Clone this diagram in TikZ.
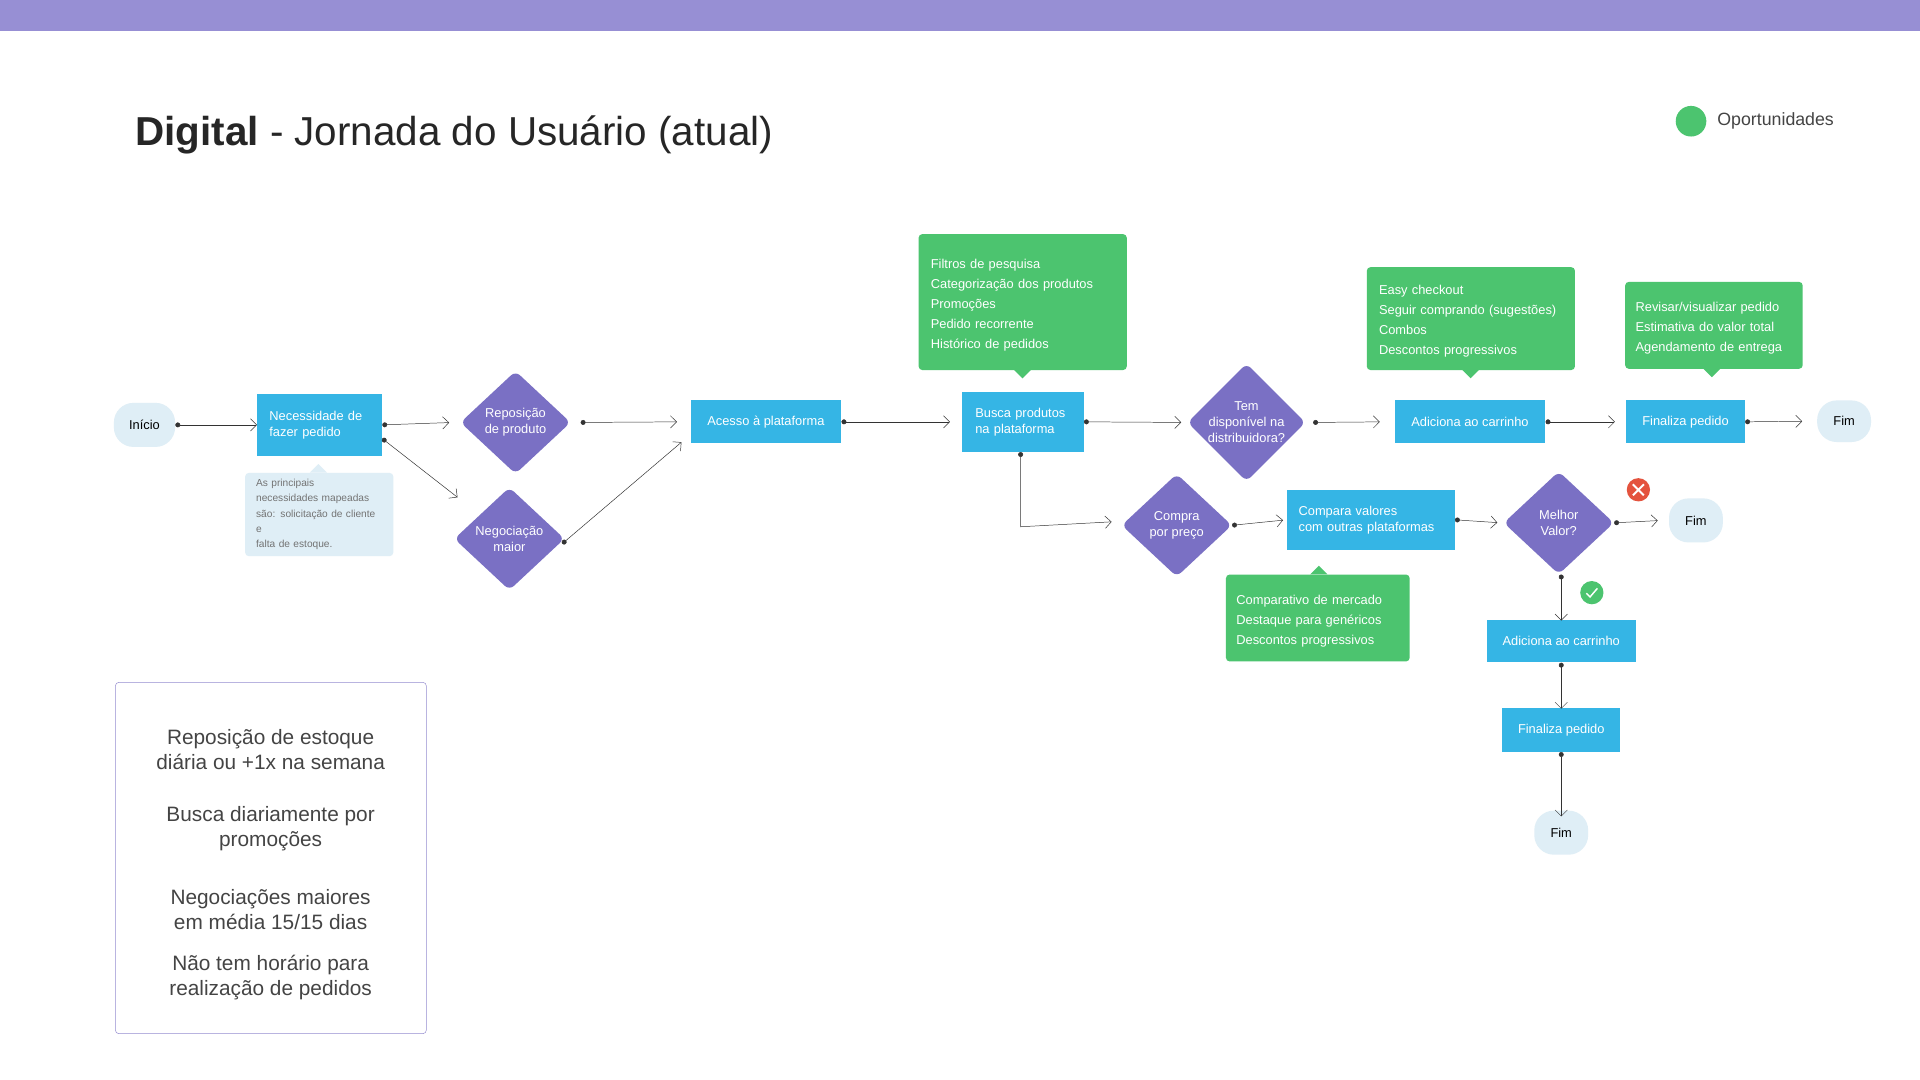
\documentclass[tikz,border=0pt]{standalone}
\usepackage{fontspec}
\setmainfont{Liberation Sans}
\usetikzlibrary{shapes.geometric,arrows.meta}
\definecolor{bar}{HTML}{978FD4}
\definecolor{blu}{HTML}{35B5E5}
\definecolor{pur}{HTML}{7A70C4}
\definecolor{grn}{HTML}{4CC46F}
\definecolor{pale}{HTML}{DFEEF6}
\definecolor{redx}{HTML}{E4533E}
\definecolor{txt}{HTML}{444444}
\begin{document}
\begin{tikzpicture}[x=1pt,y=-1pt,
 fs/.style={font=\fontsize{10.5}{13}\selectfont},
 term/.style={fs,fill=pale,rounded corners=16pt,minimum width=50pt,minimum height=36pt,inner sep=0pt,text=black},
 box/.style={fs,fill=blu,text=white,inner sep=0pt,align=left},
 dia/.style={fs,diamond,fill=pur,text=white,rounded corners=5pt,minimum width=90pt,minimum height=84pt,inner sep=0pt,align=center},
 opp/.style={fill=grn,rounded corners=3pt,text=white,align=left,anchor=north west,inner sep=0pt,font=\fontsize{10.5}{16.4}\selectfont},
 con/.style={{Circle[length=4pt]}-{Straight Barb[length=5pt,width=10pt]},thin,black!80,shorten >=3pt},
]
\useasboundingbox (0,0) rectangle (1568,882);
\fill[white] (0,0) rectangle (1568,882);
\fill[bar] (0,0) rectangle (1568,25);
\node[anchor=west,font=\fontsize{33}{38}\selectfont,text=black!85] (title) at (107,110) {\textbf{Digital} - Jornada do Usuário (atual)};
\fill[grn] (1381,99) circle (12.5);
\node[anchor=west,font=\fontsize{14.5}{17}\selectfont,text=txt] (leg) at (1399,99) {Oportunidades};

% nodes
\node[term] (ini) at (118,347) {Início};
\node[box,minimum width=102pt,minimum height=50pt,text width=82pt] (nec) at (261,347) {Necessidade de\\fazer pedido};
\fill[pale] (253,386) -- (260,379) -- (267,386) -- cycle;
\node[fill=pale,rounded corners=3pt,anchor=north west,minimum width=121pt,minimum height=68pt,text width=103pt,inner sep=0pt,align=left,text=black!55,font=\fontsize{8.3}{12.4}\selectfont] (note) at (200,386) {As principais\\necessidades mapeadas\\são: solicitação de cliente e\\falta de estoque.};
\node[dia] (rep) at (421,345) {Reposição\\de produto};
\node[dia] (neg) at (416,440) {Negociação\\maior};
\node[box,minimum width=123pt,minimum height=35pt,align=center] (ace) at (625.5,344.5) {Acesso à plataforma};
\node[box,minimum width=99pt,minimum height=49pt,text width=78pt] (bus) at (835.5,344.5) {Busca produtos\\na plataforma};
\node[opp,minimum width=170pt,minimum height=111pt,text width=150pt] (g1) at (750,191) {\\[-4pt]Filtros de pesquisa\\Categorização dos produtos\\Promoções\\Pedido recorrente\\Histórico de pedidos};
\fill[grn] (828,302) -- (835,309) -- (842,302) -- cycle;
\node[dia,minimum width=96pt,minimum height=90pt] (tem) at (1018,345) {Tem\\disponível na\\distribuidora?};
\node[box,minimum width=123pt,minimum height=35pt,align=center] (adi) at (1200.5,344.5) {Adiciona ao carrinho};
\node[opp,minimum width=170pt,minimum height=84pt,text width=150pt] (g2) at (1116,218) {\\[-4pt]Easy checkout\\Seguir comprando (sugestões)\\Combos\\Descontos progressivos};
\fill[grn] (1194,302) -- (1201,309) -- (1208,302) -- cycle;
\node[box,minimum width=97pt,minimum height=35pt,align=center] (fin) at (1376.5,344.5) {Finaliza pedido};
\node[opp,minimum width=145pt,minimum height=71pt,text width=128pt] (g3) at (1327,230) {\\[-4pt]Revisar/visualizar pedido\\Estimativa do valor total\\Agendamento de entrega};
\fill[grn] (1391,301) -- (1398,308) -- (1405,301) -- cycle;
\node[term,minimum width=44pt,minimum height=34pt] (fim1) at (1506,344) {Fim};

\node[dia] (com) at (961,429) {Compra\\por preço};
\node[box,minimum width=137pt,minimum height=49pt,text width=118pt] (cmp) at (1119.5,424.5) {Compara valores\\com outras plataformas};
\fill[grn] (1070,469) -- (1077,462) -- (1084,469) -- cycle;
\node[opp,minimum width=150pt,minimum height=71pt,text width=133pt] (g4) at (1001,469) {\\[-4pt]Comparativo de mercado\\Destaque para genéricos\\Descontos progressivos};
\node[dia] (mel) at (1273,427) {Melhor\\Valor?};
\node[term,minimum width=44pt,minimum height=36pt] (fim2) at (1385,425) {Fim};
\node[circle,fill=redx,minimum size=19pt,inner sep=0pt] (rx) at (1338,400) {};
\draw[white,line width=1.6pt] (1333.5,395.5) -- (1342.5,404.5) (1342.5,395.5) -- (1333.5,404.5);
\node[circle,fill=grn,minimum size=19pt,inner sep=0pt] (ok) at (1300,484) {};
\draw[white,line width=1.2pt] (1295.5,484.5) -- (1298.5,487.5) -- (1304.5,480.5);
\node[box,minimum width=122pt,minimum height=35pt,align=center] (adi2) at (1275,523.5) {Adiciona ao carrinho};
\node[box,minimum width=96pt,minimum height=36pt,align=center] (fin2) at (1275,596) {Finaliza pedido};
\node[term,minimum width=44pt,minimum height=36pt] (fim3) at (1275,680) {Fim};

\node[draw=pur!80,rounded corners=3pt,anchor=north west,minimum width=254pt,minimum height=287pt,inner sep=0pt] (side) at (94,557) {};
\begin{scope}[every node/.style={align=center,text=txt,font=\fontsize{17}{20.5}\selectfont}]
\node (s1) at (221,612) {Reposição de estoque\\diária ou +1x na semana};
\node (s2) at (221,677) {Busca diariamente por\\promoções};
\node (s3) at (221,743) {Negociações maiores\\em média 15/15 dias};
\node (s4) at (221,798) {Não tem horário para\\realização de pedidos};
\end{scope}

% connectors
\draw[con,shorten >=0pt] (ini.east) -- (nec.west);
\draw[con] (nec.east) -- ([xshift=-6pt]rep.west);
\draw[con] (nec.south east) ++(0,-14) coordinate (n2) (n2) -- (376,408) coordinate (ne) ;
\draw[con] ([xshift=8pt]rep.east) -- ([xshift=-8pt]ace.west);
\draw[con] ([xshift=-2pt,yshift=-4pt]neg.east) -- ([xshift=-5pt,yshift=3pt]ace.south west);
\draw[con] (ace.east) -- ([xshift=-7pt]bus.west);
\draw[con] (bus.east) -- ([xshift=-2pt]tem.west);
\draw[con] ([xshift=-2pt]bus.south) -- ++(0,61) -- ([xshift=-5pt,yshift=3pt]com.west);
\draw[con] ([xshift=6pt]tem.east) -- ([xshift=-9pt]adi.west);
\draw[con] (adi.east) -- ([xshift=-6pt]fin.west);
\draw[con] (fin.east) -- ([xshift=-9pt]fim1.west);
\draw[con] (com.east) -- (cmp.west);
\draw[con] (cmp.east) -- ([xshift=-2pt]mel.west);
\draw[con] (mel.east) -- ([xshift=-6pt]fim2.west);
\draw[con] ([xshift=2pt]mel.south) -- ([xshift=0pt,yshift=-4pt]adi2.north);
\draw[con] (adi2.south) -- ([yshift=-4pt]fin2.north);
\draw[con] (fin2.south) -- ([yshift=-8pt]fim3.north);
\end{tikzpicture}
\end{document}
